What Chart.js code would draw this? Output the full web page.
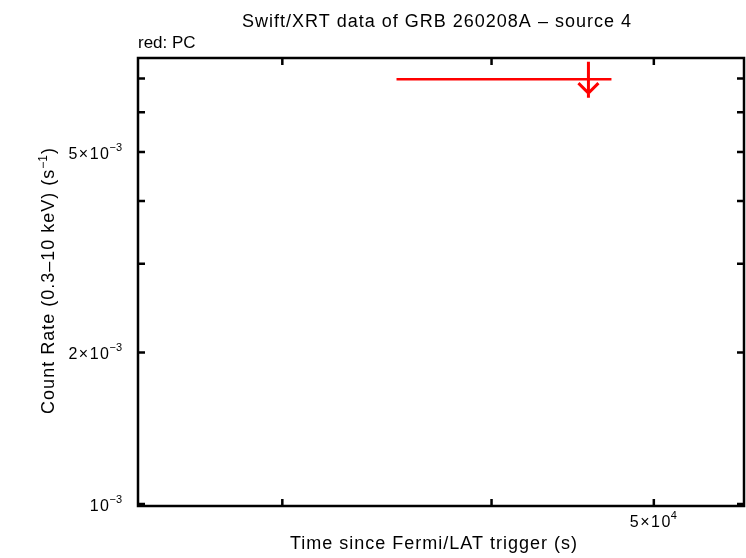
<!DOCTYPE html>
<html lang="en">
<head>
<meta charset="UTF-8">
<title>Swift/XRT data of GRB 260208A - source 4</title>
<script src="https://cdn.jsdelivr.net/npm/chart.js"></script>
<style>
  body { margin: 0; background: #fff; }
  #wrap { width: 746px; height: 558px; }
</style>
</head>
<body>
<div id="wrap"><canvas id="lc" width="746" height="558"></canvas></div>
<script>
// PC mode, one bin, an upper limit
const pcTime = [45700];
const pcTimeLo = [35100];
const pcTimeHi = [47170];
const pcRate = [6.98e-3];
const pcUpper = [true];

// axis ticks (all drawn, only some labelled)
const xTicks = [30000, 40000, 50000];
const xTickLabels = [null, null, ['5\u00d710', '4']];
const yTicks = [1e-3, 2e-3, 3e-3, 4e-3, 5e-3, 6e-3, 7e-3];
const yTickLabels = [['10', '\u22123'], ['2\u00d710', '\u22123'], null, null, ['5\u00d710', '\u22123'], null, null];

const titleText = 'Swift/XRT data of GRB 260208A \u2013 source 4';
const subText = 'red: PC';
const xTitle = 'Time since Fermi/LAT trigger (s)';
const yTitle = 'Count Rate (0.3\u201310 keV) (s';

const FONT = '"Liberation Sans", Arial, sans-serif';

function powLabel(ctx, parts, x, y, align) {
    ctx.letterSpacing = '1.5px';
    ctx.font = '16px ' + FONT;
    const wb = ctx.measureText(parts[0]).width;
    ctx.letterSpacing = '0px';
    ctx.font = '11px ' + FONT;
    const ws = ctx.measureText(parts[1]).width;
    let left = x;
    if (align === 'right') left = x - wb - ws;
    if (align === 'center') left = x - (wb + ws) / 2;
    ctx.textAlign = 'left';
    ctx.textBaseline = 'alphabetic';
    ctx.letterSpacing = '1.5px';
    ctx.font = '16px ' + FONT;
    ctx.fillText(parts[0], left, y + 7);
    ctx.letterSpacing = '0px';
    ctx.font = '11px ' + FONT;
    ctx.fillText(parts[1], left + wb - 1, y - 1);
}

const gnuFrame = {
    id: 'gnuFrame',
    afterDatasetsDraw(chart) {
        const ctx = chart.ctx;
        const xs = chart.scales.x, ys = chart.scales.y;
        ctx.save();
        ctx.strokeStyle = '#ff0000';
        ctx.lineWidth = 2.5;
        for (let i = 0; i < pcTime.length; i++) {
            const y = ys.getPixelForValue(pcRate[i]);
            const x = xs.getPixelForValue(pcTime[i]);
            ctx.beginPath();
            ctx.moveTo(xs.getPixelForValue(pcTimeLo[i]), y);
            ctx.lineTo(xs.getPixelForValue(pcTimeHi[i]), y);
            ctx.stroke();
            if (pcUpper[i]) {
                ctx.beginPath();
                ctx.moveTo(x, y - 17.5);
                ctx.lineTo(x, y + 18.5);
                ctx.moveTo(x - 10, y + 4);
                ctx.lineTo(x, y + 14);
                ctx.lineTo(x + 10, y + 4);
                ctx.lineWidth = 3;
                ctx.stroke();
            }
        }
        ctx.restore();
    },
    afterDraw(chart) {
        const ctx = chart.ctx;
        const a = chart.chartArea;
        const xs = chart.scales.x, ys = chart.scales.y;
        ctx.save();
        ctx.strokeStyle = '#000';
        ctx.fillStyle = '#000';
        ctx.lineWidth = 2.5;
        ctx.strokeRect(a.left, a.top, a.right - a.left, a.bottom - a.top);
        const tl = 7;
        ctx.beginPath();
        xTicks.forEach(v => {
            const x = xs.getPixelForValue(v);
            ctx.moveTo(x, a.bottom); ctx.lineTo(x, a.bottom - tl);
            ctx.moveTo(x, a.top); ctx.lineTo(x, a.top + tl);
        });
        yTicks.forEach(v => {
            const y = ys.getPixelForValue(v);
            ctx.moveTo(a.left, y); ctx.lineTo(a.left + tl, y);
            ctx.moveTo(a.right, y); ctx.lineTo(a.right - tl, y);
        });
        ctx.stroke();

        xTicks.forEach((v, i) => {
            if (xTickLabels[i]) powLabel(ctx, xTickLabels[i], xs.getPixelForValue(v), a.bottom + 14, 'center');
        });
        yTicks.forEach((v, i) => {
            if (yTickLabels[i]) powLabel(ctx, yTickLabels[i], a.left - 15, ys.getPixelForValue(v), 'right');
        });

        ctx.textBaseline = 'alphabetic';
        ctx.font = '18px ' + FONT;
        ctx.letterSpacing = '1px';
        ctx.textAlign = 'center';
        ctx.fillText(titleText, 437, 27);
        ctx.fillText(xTitle, 434, 549);
        ctx.letterSpacing = '0px';
        ctx.font = '17px ' + FONT;
        ctx.textAlign = 'left';
        ctx.fillText(subText, a.left, 48);

        // rotated y title with superscript
        ctx.translate(54, 281.5);
        ctx.rotate(-Math.PI / 2);
        ctx.font = '18px ' + FONT;
        ctx.letterSpacing = '1px';
        const w1 = ctx.measureText(yTitle).width;
        ctx.letterSpacing = '0px';
        ctx.font = '12px ' + FONT;
        const w2 = ctx.measureText('\u22121').width;
        ctx.font = '18px ' + FONT;
        const w3 = ctx.measureText(')').width;
        const sx = -(w1 + w2 + w3) / 2;
        ctx.letterSpacing = '1px';
        ctx.fillText(yTitle, sx, 0);
        ctx.letterSpacing = '0px';
        ctx.font = '12px ' + FONT;
        ctx.fillText('\u22121', sx + w1, -7);
        ctx.font = '18px ' + FONT;
        ctx.fillText(')', sx + w1 + w2 + 1, 0);
        ctx.restore();
    }
};

const ctx = document.getElementById('lc').getContext('2d');
new Chart(ctx, {
    type: 'scatter',
    data: {
        datasets: [{
            data: pcTime.map((t, i) => ({ x: t, y: pcRate[i] })),
            pointRadius: 0,
            showLine: false
        }]
    },
    options: {
        responsive: false,
        animation: false,
        layout: { padding: { top: 58, right: 2, left: 0, bottom: 0 } },
        plugins: { legend: { display: false }, tooltip: { enabled: false } },
        scales: {
            x: {
                type: 'logarithmic', min: 24600, max: 56600,
                ticks: { display: false }, grid: { display: false }, border: { display: false },
                afterFit: s => { s.height = 52; }
            },
            y: {
                type: 'logarithmic', min: 0.991e-3, max: 7.69e-3,
                ticks: { display: false }, grid: { display: false }, border: { display: false },
                afterFit: s => { s.width = 138; }
            }
        }
    },
    plugins: [gnuFrame]
});
</script>
</body>
</html>
